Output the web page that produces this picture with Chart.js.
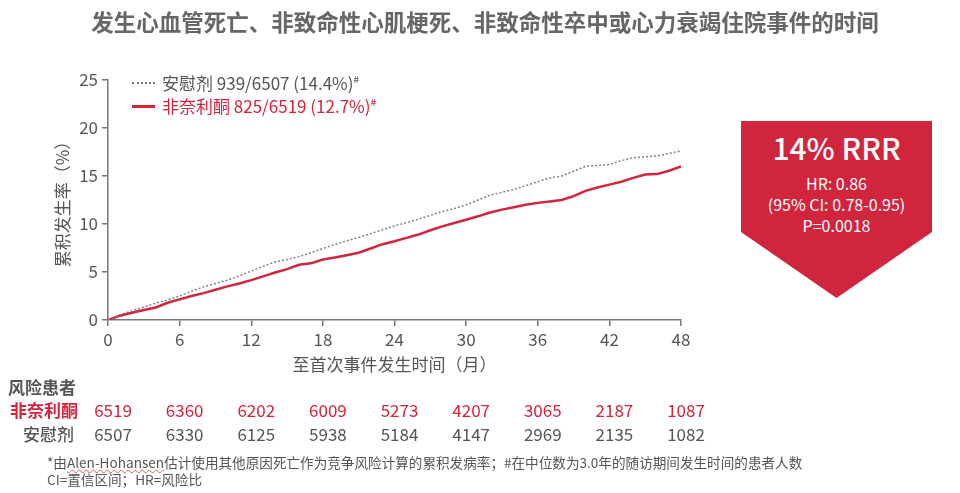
<!DOCTYPE html>
<html>
<head>
<meta charset="utf-8">
<script src="https://cdn.jsdelivr.net/npm/chart.js@4.4.1/dist/chart.umd.min.js"></script>
<style>
  body { margin: 0; background: #fff; font-family: "Noto Sans CJK SC", "Noto Sans", sans-serif; }
  #page { position: relative; width: 960px; height: 493px; overflow: hidden; }
  #chart-box { position: absolute; left: 0; top: 0; width: 960px; height: 493px; }
  .title { position: absolute; left: 0; width: 970px; top: 5px; text-align: center; font-size: 22.5px; font-weight: 600; color: #666; }
  .legend { position: absolute; left: 132px; font-size: 17px; white-space: nowrap; }
  .legend sup { font-size: 10px; }
  .legend .swatch { display: inline-block; width: 23px; vertical-align: middle; margin-right: 7px; position: relative; top: -2px; }
  .rrr { position: absolute; left: 741px; top: 121px; width: 191px; height: 177px; background: #d1253e; color: #fff; text-align: center;
         clip-path: polygon(0 0, 100% 0, 100% 111px, 50% 100%, 0 111px); }
  .rrr .big { font-size: 30px; font-weight: 500; margin-top: 6px; line-height: 40px; }
  .rrr .small { font-size: 16px; line-height: 21px; margin-top: 6px; }
  .note { position: absolute; left: 47px; top: 454px; font-size: 13.6px; line-height: 17px; color: #555; }
  .note .sq { text-decoration: underline wavy #e05a5a; text-decoration-thickness: 1px; }
</style>
</head>
<body>
<div id="page">
  <div id="chart-box"><canvas id="km-chart"></canvas></div>
  <div class="title">发生心血管死亡、非致命性心肌梗死、非致命性卒中或心力衰竭住院事件的时间</div>
  <div class="legend" style="top:70px;color:#555;">
    <span class="swatch" style="border-top:2px dotted #777;"></span>安慰剂 939/6507 (14.4%)<sup>#</sup>
  </div>
  <div class="legend" style="top:93px;color:#d1253e;">
    <span class="swatch" style="border-top:3px solid #d1253e;"></span>非奈利酮 825/6519 (12.7%)<sup>#</sup>
  </div>
  <div class="rrr">
    <div class="big">14% RRR</div>
    <div class="small">HR: 0.86<br>(95% CI: 0.78-0.95)<br>P=0.0018</div>
  </div>
  <div class="note">*由<span class="sq">Alen-Hohansen</span>估计使用其他原因死亡作为竞争风险计算的累积发病率；#在中位数为3.0年的随访期间发生时间的患者人数<br>CI=置信区间；HR=风险比</div>
</div>

<script>
const months = [0, 1, 2, 3, 4, 5, 6, 7, 8, 9, 10, 11, 12, 13, 14, 15, 16, 17, 18, 19, 20, 21, 22, 23, 24,
    25, 26, 27, 28, 29, 30, 31, 32, 33, 34, 35, 36, 37, 38, 39, 40, 41, 42, 43, 44, 45, 46, 47, 48];

// cumulative incidence (%)
const placeboRate = [0, 0.55, 0.95, 1.35, 1.75, 2.1, 2.5, 3.0, 3.45, 3.8, 4.15, 4.6, 5.1, 5.6, 6.05, 6.3, 6.6, 7.0, 7.45,
    7.85, 8.25, 8.6, 9.0, 9.4, 9.8, 10.15, 10.5, 10.9, 11.3, 11.6, 12.0, 12.5, 13.0, 13.3, 13.6, 14.0, 14.4,
    14.8, 15.0, 15.5, 16.0, 16.1, 16.2, 16.6, 16.9, 17.0, 17.1, 17.35, 17.6];
const finerenoneRate = [0, 0.45, 0.75, 1.05, 1.3, 1.8, 2.15, 2.5, 2.8, 3.15, 3.5, 3.8, 4.15, 4.55, 4.95, 5.3, 5.75, 5.9, 6.3,
    6.5, 6.75, 7.0, 7.45, 7.9, 8.2, 8.55, 8.9, 9.35, 9.75, 10.1, 10.45, 10.8, 11.2, 11.5, 11.75, 12.0, 12.2,
    12.35, 12.5, 12.9, 13.45, 13.8, 14.1, 14.4, 14.8, 15.15, 15.2, 15.55, 16.0];

const riskMonths = [0, 6, 12, 18, 24, 30, 36, 42, 48];
const riskFinerenone = [6519, 6360, 6202, 6009, 5273, 4207, 3065, 2187, 1087];
const riskPlacebo = [6507, 6330, 6125, 5938, 5184, 4147, 2969, 2135, 1082];

const RED = '#d1253e';

const toPoints = (values) => months.map((m, i) => ({ x: m, y: values[i] }));

// draws the numbers-at-risk table under the x axis, aligned on the x scale
const riskTablePlugin = {
    id: 'riskTable',
    afterDraw(chart) {
        const ctx = chart.ctx;
        const xScale = chart.scales.x;
        ctx.save();
        ctx.textBaseline = 'middle';

        ctx.font = '700 17px "Noto Sans CJK SC"';
        ctx.fillStyle = '#555';
        ctx.textAlign = 'left';
        ctx.fillText('风险患者', 8, 388);

        ctx.textAlign = 'right';
        ctx.fillStyle = RED;
        ctx.fillText('非奈利酮', 78, 411);
        ctx.font = '500 17px "Noto Sans CJK SC"';
        ctx.fillStyle = '#555';
        ctx.fillText('安慰剂', 74, 435);

        ctx.textAlign = 'center';
        ctx.font = '400 17px "Noto Sans CJK SC"';
        riskMonths.forEach((m, i) => {
            const px = xScale.getPixelForValue(m) + 5;
            ctx.fillStyle = RED;
            ctx.fillText(String(riskFinerenone[i]), px, 411);
            ctx.fillStyle = '#555';
            ctx.fillText(String(riskPlacebo[i]), px, 435);
        });
        ctx.restore();
    }
};

const axisGrid = {
    drawOnChartArea: false,
    drawTicks: true,
    tickLength: 6,
    color: '#777',
    lineWidth: 1.5
};

new Chart(document.querySelector('#km-chart'), {
    type: 'line',
    data: {
        datasets: [
            {
                label: '安慰剂',
                data: toPoints(placeboRate),
                borderColor: '#808080',
                borderWidth: 1.5,
                borderDash: [2, 2],
                pointRadius: 0,
                tension: 0
            },
            {
                label: '非奈利酮',
                data: toPoints(finerenoneRate),
                borderColor: RED,
                borderWidth: 2.5,
                pointRadius: 0,
                tension: 0
            }
        ]
    },
    options: {
        responsive: true,
        maintainAspectRatio: false,
        animation: false,
        layout: {
            padding: { left: 52, top: 80, right: 279, bottom: 118 }
        },
        plugins: {
            legend: { display: false },
            tooltip: { enabled: false }
        },
        scales: {
            x: {
                type: 'linear',
                min: 0,
                max: 48,
                grid: axisGrid,
                border: { color: '#777', width: 1.5 },
                ticks: {
                    stepSize: 6,
                    color: '#555',
                    padding: 3,
                    font: { family: '"Noto Sans CJK SC"', size: 17 }
                },
                title: {
                    display: true,
                    text: '至首次事件发生时间（月）',
                    color: '#555',
                    padding: 0,
                    font: { family: '"Noto Sans CJK SC"', size: 17 }
                },
                afterFit: (scale) => { scale.height = 55; }
            },
            y: {
                min: 0,
                max: 25,
                grid: axisGrid,
                border: { color: '#777', width: 1.5 },
                ticks: {
                    stepSize: 5,
                    color: '#555',
                    padding: 4,
                    font: { family: '"Noto Sans CJK SC"', size: 17 }
                },
                title: {
                    display: true,
                    text: '累积发生率（%）',
                    color: '#555',
                    padding: 0,
                    font: { family: '"Noto Sans CJK SC"', size: 17 }
                },
                afterFit: (scale) => { scale.width = 56; }
            }
        }
    },
    plugins: [riskTablePlugin]
});
</script>
</body>
</html>
